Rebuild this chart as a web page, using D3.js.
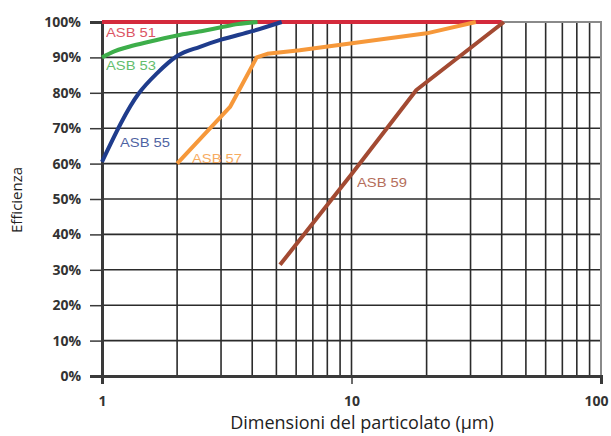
<!DOCTYPE html>
<html>
<head>
<meta charset="utf-8">
<script src="https://cdn.jsdelivr.net/npm/d3@7"></script>
<style>
  body { margin: 0; background: #fff; }
  svg { display: block; }
</style>
</head>
<body>
<svg id="chart" width="611" height="436"></svg>
<script>
// values (x = particle size in µm, y = efficiency %)
const asb51 = [[1, 100], [40, 100]]
const asb53 = [[1, 90], [1.12, 91.7], [1.25, 92.8], [1.5, 94.2], [2, 96.2], [2.5, 97.4], [3, 98.5], [3.5, 99.4], [4.2, 100]]
const asb55 = [[1, 60.5], [1.41, 80], [1.66, 85.5], [2, 90.4], [2.47, 93], [3, 95], [4, 97.4], [5.25, 100]]
const asb57 = [[2, 60], [3.26, 76], [4.17, 90], [4.6, 91], [6.2, 92], [20, 96.8], [31.5, 100]]
const asb59 = [[5.17, 31.4], [10, 57], [18.2, 80.8], [40.8, 100]]

const seriesNames = ["ASB 51", "ASB 53", "ASB 55", "ASB 57", "ASB 59"]
const seriesColors = ["#d42a3c", "#3dae4a", "#1f3c8c", "#f6983a", "#a34a32"]
const yTicks = [0, 10, 20, 30, 40, 50, 60, 70, 80, 90, 100]
const xLabels = [1, 10, 100]
const xGrid = [2, 3, 4, 5, 6, 7, 8, 9, 10, 20, 30, 40, 50, 60, 70, 80, 90]

const mLeft = 102, mRight = 601, mTop = 22, mBottom = 376

const svg = d3.select("#chart")
const x = d3.scaleLog().domain([1, 100]).range([mLeft, mRight])
const y = d3.scaleLinear().domain([0, 100]).range([mBottom, mTop])

// grid
svg.append("g").selectAll("line").data(xGrid).join("line")
    .attr("x1", d => x(d)).attr("x2", d => x(d))
    .attr("y1", mTop).attr("y2", mBottom)
    .attr("stroke", "#2b2b2b").attr("stroke-width", 1.6)
svg.append("g").selectAll("line").data(yTicks.slice(1, -1)).join("line")
    .attr("x1", mLeft).attr("x2", mRight)
    .attr("y1", d => y(d)).attr("y2", d => y(d))
    .attr("stroke", "#2b2b2b").attr("stroke-width", 1.6)

// frame: gray top and right, dark left and bottom
svg.append("rect").attr("x", mLeft).attr("y", mTop)
    .attr("width", mRight - mLeft).attr("height", mBottom - mTop)
    .attr("fill", "none").attr("stroke", "#8a8a8a").attr("stroke-width", 2)

// y axis
const yAxis = d3.axisLeft(y).tickValues(yTicks).tickSize(12).tickPadding(9)
    .tickFormat(d => d + "%")
const gy = svg.append("g").attr("transform", `translate(${mLeft},0)`).call(yAxis)
gy.select(".domain").attr("stroke", "#3a3a3a").attr("stroke-width", 3)
gy.selectAll(".tick line").attr("stroke", "#3a3a3a").attr("stroke-width", 1.5)
gy.selectAll(".tick text").attr("font-family", "Open Sans").attr("font-weight", "bold")
    .attr("font-size", 14).attr("fill", "#333")

// x axis
const xAxis = d3.axisBottom(x).tickValues(xLabels).tickSize(8).tickPadding(12)
    .tickFormat(d3.format("d"))
const gx = svg.append("g").attr("transform", `translate(0,${mBottom})`).call(xAxis)
gx.select(".domain").attr("stroke", "#3a3a3a").attr("stroke-width", 3)
gx.selectAll(".tick line").attr("stroke", "#3a3a3a").attr("stroke-width", 1.5)
gx.selectAll(".tick text").attr("font-family", "Open Sans").attr("font-weight", "bold")
    .attr("font-size", 14).attr("fill", "#333")
// keep the last label inside the window
gx.selectAll(".tick text").filter(d => d === 100).attr("dx", -5)

// series lines
const allSeries = [asb51, asb53, asb55, asb57, asb59]
const curves = [d3.curveLinear, d3.curveMonotoneX, d3.curveMonotoneX, d3.curveLinear, d3.curveLinear]
allSeries.forEach((s, i) => {
    const line = d3.line().x(d => x(d[0])).y(d => y(d[1])).curve(curves[i])
    svg.append("path").datum(s)
        .attr("d", line)
        .attr("fill", "none")
        .attr("stroke", seriesColors[i])
        .attr("stroke-width", 4)
        .attr("stroke-linejoin", "round")
})

// series labels
const labelPos = [[106, 37], [106, 70], [120, 147], [192, 163], [357, 187]]
seriesNames.forEach((n, i) => {
    svg.append("text")
        .attr("x", labelPos[i][0]).attr("y", labelPos[i][1])
        .attr("font-family", "Liberation Sans").attr("font-size", 12)
        .attr("textLength", 50).attr("lengthAdjust", "spacingAndGlyphs")
        .attr("fill", seriesColors[i]).attr("opacity", 0.8)
        .text(n)
})

// titles
svg.append("text").attr("x", 362).attr("y", 429)
    .attr("text-anchor", "middle")
    .attr("font-family", "Open Sans").attr("font-size", 18).attr("fill", "#222")
    .text("Dimensioni del particolato (µm)")
svg.append("text")
    .attr("transform", "translate(22,200) rotate(-90)")
    .attr("text-anchor", "middle")
    .attr("font-family", "Open Sans").attr("font-size", 15).attr("fill", "#222")
    .text("Efficienza")
</script>
</body>
</html>
